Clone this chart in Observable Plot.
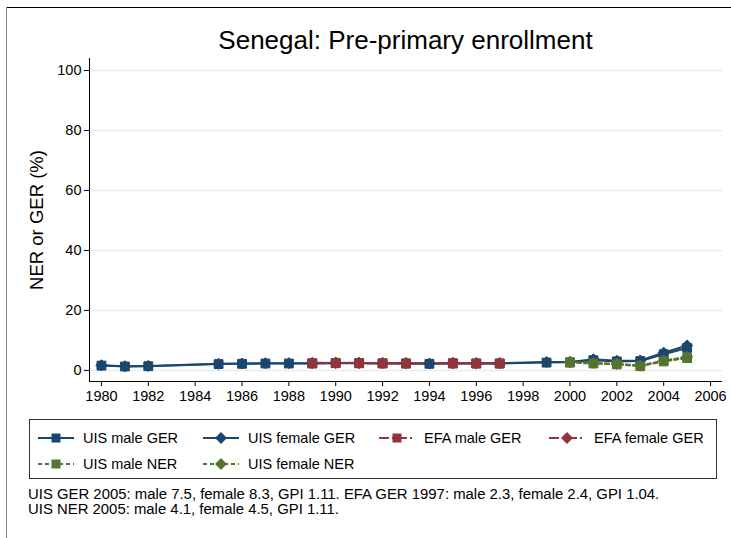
<!DOCTYPE html>
<html>
<head>
<meta charset="utf-8">
<script src="https://cdn.jsdelivr.net/npm/d3@7"></script>
<script src="https://cdn.jsdelivr.net/npm/@observablehq/plot@0.6"></script>
<style>
  body { margin: 0; background: #fff; font-family: "Liberation Sans", Arial, sans-serif; }
  #wrap { position: relative; width: 731px; height: 538px; overflow: hidden; background: #fff; }
  #frameTop { position: absolute; left: 6px; top: 7px; width: 725px; height: 0; border-top: 1px solid #000; }
  #frameLeft { position: absolute; left: 6px; top: 7px; width: 0; height: 531px; border-left: 1px solid #888; }
  #title { position: absolute; left: 89px; width: 633px; top: 25px; text-align: center; font-size: 26px; color: #000; }
  #chart { position: absolute; left: 0; top: 0; }
  #legend { position: absolute; left: 29px; top: 419px; width: 688px; height: 60px; border: 1px solid #333; box-sizing: border-box; background: #fff; }
  .item { position: absolute; display: flex; align-items: center; font-size: 14.5px; color: #000; white-space: nowrap; }
  .item svg { margin-right: 9px; }
  #caption { position: absolute; left: 28px; top: 487px; font-size: 14.9px; line-height: 14.5px; color: #000; white-space: nowrap; }
</style>
</head>
<body>
<div id="wrap">
  <div id="frameTop"></div>
  <div id="frameLeft"></div>
  <div id="chart"></div>
  <div id="title">Senegal: Pre-primary enrollment</div>
  <div id="legend"></div>
  <div id="caption"></div>
</div>
<script>
// ---- data ----
const uisGerYears = [1980,1981,1982,1985,1986,1987,1988,1989,1990,1991,1992,1993,1994,1995,1996,1997,1999,2000,2001,2002,2003,2004,2005];
const uisMaleGer   = [1.6,1.3,1.4,2.1,2.2,2.3,2.3,2.3,2.4,2.4,2.3,2.3,2.2,2.3,2.3,2.3,2.6,2.7,3.4,3.0,3.1,5.4,7.5];
const uisFemaleGer = [1.7,1.4,1.5,2.2,2.3,2.4,2.4,2.4,2.5,2.5,2.4,2.4,2.3,2.4,2.4,2.4,2.8,2.8,3.7,3.2,3.3,5.9,8.3];

const efaYears = [1989,1990,1991,1992,1993,1995,1996,1997];
const efaMaleGer   = [2.4,2.5,2.4,2.4,2.3,2.4,2.3,2.3];
const efaFemaleGer = [2.5,2.6,2.5,2.5,2.4,2.5,2.4,2.4];

const uisNerYears = [2000,2001,2002,2003,2004,2005];
const uisMaleNer   = [2.6,2.3,2.0,1.4,3.0,4.1];
const uisFemaleNer = [2.8,2.5,2.2,1.6,3.3,4.5];

const xTicks = [1980,1982,1984,1986,1988,1990,1992,1994,1996,1998,2000,2002,2004,2006];
const yTicks = [0,20,40,60,80,100];

const seriesNames = ["UIS male GER","UIS female GER","EFA male GER","EFA female GER","UIS male NER","UIS female NER"];
const captionLines = [
  "UIS GER 2005: male 7.5, female 8.3, GPI 1.11. EFA GER 1997: male 2.3, female 2.4, GPI 1.04.",
  "UIS NER 2005: male 4.1, female 4.5, GPI 1.11."
];

// ---- styles ----
const navy = "#1a476f", maroon = "#90353b", green = "#55752f";
const styles = [
  {color: navy, symbol: "square", dash: null},
  {color: navy, symbol: "diamond2", dash: null},
  {color: maroon, symbol: "square", dash: "10,3,2,3"},
  {color: maroon, symbol: "diamond2", dash: "10,3,2,3"},
  {color: green, symbol: "square", dash: "4,3"},
  {color: green, symbol: "diamond2", dash: "4,3"}
];
const seriesData = [
  [uisGerYears, uisMaleGer],
  [uisGerYears, uisFemaleGer],
  [efaYears, efaMaleGer],
  [efaYears, efaFemaleGer],
  [uisNerYears, uisMaleNer],
  [uisNerYears, uisFemaleNer]
];

const marks = [
  Plot.gridY(yTicks, {stroke: "#e6edf2", strokeOpacity: 1, strokeWidth: 1.5}),
  Plot.axisY(yTicks, {tickSize: 5, tickPadding: 3, fontSize: 14.5, label: null}),
  Plot.axisX(xTicks, {tickSize: 5, tickPadding: 4, fontSize: 14.5, label: null, tickFormat: d => String(d)}),
  Plot.ruleX([1979.49], {y1: -3.7, y2: 104, stroke: "#000"}),
  Plot.ruleY([-3.7], {stroke: "#000"}),
  Plot.text(["NER or GER (%)"], {frameAnchor: "left", textAnchor: "middle", rotate: -90, dx: -52, fontSize: 18.5, fill: "#000"})
];
seriesData.forEach(([xs, ys], i) => {
  const rows = xs.map((x, j) => ({x, y: ys[j]}));
  const s = styles[i];
  marks.push(Plot.line(rows, {x: "x", y: "y", stroke: s.color, strokeWidth: 2, strokeDasharray: s.dash}));
});
seriesData.forEach(([xs, ys], i) => {
  const rows = xs.map((x, j) => ({x, y: ys[j]}));
  const s = styles[i];
  marks.push(Plot.dot(rows, {x: "x", y: "y", symbol: () => s.symbol, fill: s.color, stroke: s.color, strokeWidth: 1, r: 5}));
});

const chart = Plot.plot({
  width: 731,
  height: 408,
  marginLeft: 89,
  marginRight: 9,
  marginTop: 58,
  marginBottom: 27,
  style: {fontFamily: "Liberation Sans, Arial, sans-serif", color: "#000", background: "transparent"},
  x: {domain: [1979.49, 2006.51], axis: null},
  y: {domain: [-3.7, 104], axis: null},
  symbol: {type: "identity"},
  marks
});
document.getElementById("chart").appendChild(chart);

// ---- legend ----
const legend = document.getElementById("legend");
const positions = [[8,18],[173,18],[349,18],[519,18],[8,44],[173,44]];
seriesNames.forEach((name, i) => {
  const s = styles[i];
  const div = document.createElement("div");
  div.className = "item";
  div.style.left = positions[i][0] + "px";
  div.style.top = (positions[i][1] - 10) + "px";
  const sym = s.symbol === "square"
    ? `<rect x="13.5" y="5.5" width="9" height="9" fill="${s.color}"/>`
    : `<path d="M18,4 L24,10 L18,16 L12,10 Z" fill="${s.color}"/>`;
  div.innerHTML = `<svg width="36" height="20"><line x1="0" y1="10" x2="36" y2="10" stroke="${s.color}" stroke-width="2" ${s.dash ? `stroke-dasharray="${s.dash}"` : ""}/>${sym}</svg><span>${name}</span>`;
  legend.appendChild(div);
});
document.getElementById("caption").innerHTML = captionLines.join("<br>");
</script>
</body>
</html>
